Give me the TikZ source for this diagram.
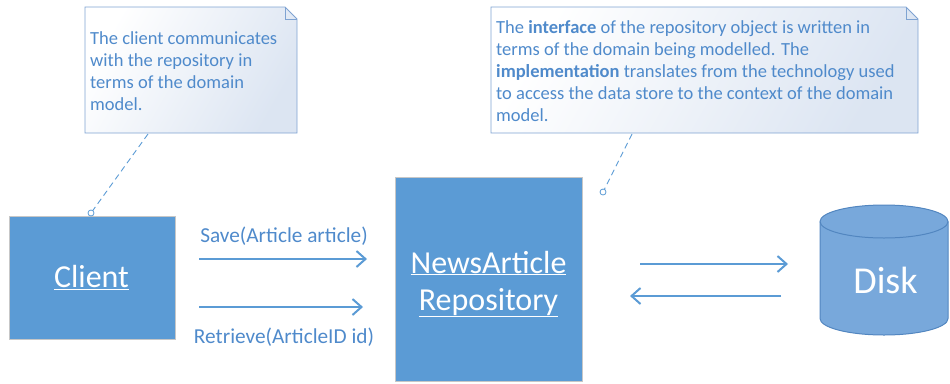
\documentclass[tikz,border=0pt]{standalone}
\usepackage{fontspec}
\setmainfont{Carlito}
\usetikzlibrary{arrows.meta}
\definecolor{boxblue}{HTML}{5B9BD5}
\definecolor{txtblue}{HTML}{4F8ACB}
\definecolor{noteedge}{HTML}{7FA3D2}
\definecolor{notefill}{HTML}{DCE5F2}
\definecolor{diskfill}{HTML}{78A8DB}
\definecolor{diskedge}{HTML}{5286C0}
\tikzset{
  classbox/.style={draw=black!22, line width=0.8pt, fill=boxblue, inner sep=0pt},
  classtext/.style={text=white, align=center, font=\fontsize{32}{37}\selectfont, inner sep=0pt},
  msg/.style={draw=boxblue, line width=2pt, -{Straight Barb[length=9pt,width=16pt,line width=2pt]}},
  msglabel/.style={text=txtblue, font=\fontsize{21.3}{25}\selectfont, inner sep=0pt},
  notebody/.style={draw=noteedge, line width=0.8pt, left color=white, right color=notefill, shading angle=60},
  notetext/.style={text=txtblue, align=left, font=\fontsize{18.5}{22}\selectfont, inner sep=0pt, anchor=north west},
  anchorline/.style={draw=boxblue, line width=0.9pt, dash pattern=on 6pt off 4pt},
  anchorring/.style={draw=boxblue, line width=0.8pt, fill=white}
}
\begin{document}
\begin{tikzpicture}[x=1pt,y=-1pt]
\useasboundingbox (0,0) rectangle (950,383);
% note 1
\path[notebody] (85,7) -- (285,7) -- (297,19) -- (297,133) -- (85,133) -- cycle;
\draw[noteedge, line width=0.8pt] (285,7) -- (285,19) -- (297,19);
\node[notetext] (note1) at (90,31) {The client communicates\\with the repository in\\terms of the domain\\model.};
% note 2
\path[notebody] (491,7) -- (906,7) -- (918,19) -- (918,133) -- (491,133) -- cycle;
\draw[noteedge, line width=0.8pt] (906,7) -- (906,19) -- (918,19);
\node[notetext] (note2) at (496,20) {The \textbf{interface} of the repository object is written in\\terms of the domain being modelled. The\\\textbf{implementation} translates from the technology used\\to access the data store to the context of the domain\\model.};
% boxes
\node[classbox, minimum width=166pt, minimum height=123pt] (client) at (92,277.5) {};
\node[classtext] (clienttext) at (91.5,277.5) {\underline{Client}};
\node[classbox, minimum width=187pt, minimum height=204pt] (repo) at (488.5,279) {};
\node[classtext] (repotext) at (488.5,284) {\underline{NewsArticle}\\\underline{Repository}};
% disk
\path[fill=diskfill, draw=diskedge, line width=1pt] (820,221.5) -- (820,318.5) arc[start angle=180, end angle=360, x radius=64pt, y radius=16.5pt] -- (948,221.5) arc[start angle=0, end angle=180, x radius=64pt, y radius=16.5pt] -- cycle;
\draw[diskedge, line width=1pt] (820,221.5) arc[start angle=180, end angle=360, x radius=64pt, y radius=16.5pt];
\node[text=white, font=\fontsize{38}{44}\selectfont, inner sep=0pt] (disk) at (885.5,280) {Disk};
% note anchors
\coordinate (n1a) at (148,134);
\coordinate (c1) at (91,213);
\draw[anchorline] (n1a) -- (c1);
\draw[anchorring] (c1) circle[radius=3pt];
\coordinate (n2a) at (632,134);
\coordinate (r1) at (603,192);
\draw[anchorline] (n2a) -- (r1);
\draw[anchorring] (r1) circle[radius=3pt];
% messages
\coordinate (s1) at (199,259);
\coordinate (s2) at (367,259);
\coordinate (t1) at (199,307);
\coordinate (t2) at (363,307);
\draw[msg] (s1) -- (s2);
\draw[msg] (t1) -- (t2);
\node[msglabel] (savel) at (284,236) {Save(Article article)};
\node[msglabel] (retl) at (284,337) {Retrieve(ArticleID id)};
\coordinate (d1) at (640,264);
\coordinate (d2) at (788,264);
\coordinate (e1) at (781,296);
\coordinate (e2) at (630,296);
\draw[msg] (d1) -- (d2);
\draw[msg] (e1) -- (e2);
\end{tikzpicture}
\end{document}
